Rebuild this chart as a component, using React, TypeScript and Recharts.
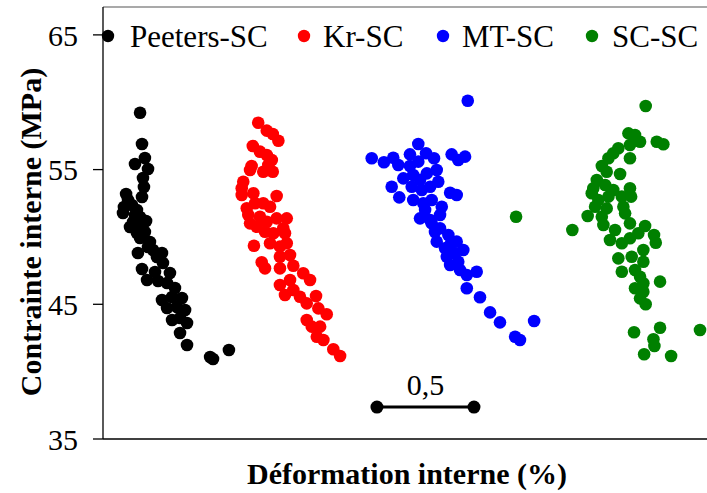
import React from 'react';
import { ScatterChart, Scatter, XAxis, YAxis, ReferenceLine, ReferenceDot, Legend } from 'recharts';

const FONT = "'Liberation Serif', 'Times New Roman', Times, serif";

// Déformation interne (%), Contrainte interne (MPa)
const peetersSC: [number, number][] = [
  [0.191, 59.22], [0.201, 56.9], [0.165, 55.41], [0.216, 55.86], [0.232, 55.04], [0.206, 54.38],
  [0.211, 53.71], [0.119, 53.19], [0.201, 52.97], [0.108, 52.22], [0.103, 51.78], [0.149, 52.37],
  [0.175, 52.0], [0.155, 51.11], [0.139, 50.74], [0.191, 51.48], [0.201, 50.74], [0.175, 50.29],
  [0.191, 49.92], [0.242, 49.62], [0.232, 49.25], [0.18, 48.81], [0.258, 49.03], [0.304, 48.81],
  [0.278, 48.51], [0.201, 47.62], [0.309, 48.07], [0.268, 47.4], [0.227, 46.8], [0.284, 46.73],
  [0.345, 47.32], [0.33, 46.58], [0.371, 46.21], [0.407, 45.47], [0.356, 45.54], [0.304, 45.32],
  [0.33, 44.72], [0.381, 44.8], [0.423, 44.58], [0.356, 43.83], [0.397, 43.98], [0.433, 43.61],
  [0.397, 42.87], [0.433, 41.98], [0.552, 41.09], [0.567, 40.94], [0.649, 41.61], [0.129, 52.74],
  [0.165, 51.63], [0.216, 50.37], [0.222, 51.18],
];

const krSC: [number, number][] = [
  [0.8, 58.48], [0.844, 57.89], [0.875, 57.64], [0.904, 57.14], [0.772, 56.75], [0.809, 56.33],
  [0.844, 56.08], [0.87, 55.71], [0.766, 55.27], [0.758, 54.97], [0.826, 54.84], [0.875, 54.84],
  [0.852, 55.34], [0.723, 54.1], [0.715, 53.61], [0.715, 53.11], [0.775, 53.24], [0.895, 53.04],
  [0.741, 52.13], [0.784, 52.5], [0.826, 52.5], [0.861, 52.24], [0.749, 51.63], [0.758, 51.01],
  [0.809, 51.5], [0.844, 51.13], [0.895, 51.38], [0.947, 51.38], [0.792, 50.76], [0.835, 50.39],
  [0.878, 50.27], [0.929, 50.64], [0.938, 50.27], [0.778, 49.35], [0.861, 49.53], [0.912, 49.28],
  [0.947, 49.53], [0.818, 48.12], [0.835, 47.67], [0.912, 48.53], [0.964, 48.66], [0.912, 47.67],
  [0.981, 47.86], [0.912, 46.43], [0.964, 46.8], [0.938, 45.69], [0.981, 46.06], [1.032, 47.3],
  [1.067, 46.8], [1.015, 45.56], [1.05, 45.07], [1.098, 45.61], [1.11, 44.7], [1.153, 44.26],
  [1.05, 43.83], [1.076, 43.34], [1.119, 43.34], [1.102, 42.59], [1.136, 42.35], [1.187, 41.66],
  [1.222, 41.16],
];

const mtSC: [number, number][] = [
  [1.88, 60.11], [1.625, 56.9], [1.385, 55.84], [1.448, 55.54], [1.496, 55.88], [1.522, 55.34],
  [1.582, 56.13], [1.665, 56.21], [1.706, 55.84], [1.72, 54.97], [1.797, 56.13], [1.831, 55.71],
  [1.866, 55.96], [1.582, 55.27], [1.625, 55.59], [1.548, 54.35], [1.599, 54.6], [1.669, 54.72],
  [1.728, 54.1], [1.488, 53.73], [1.527, 52.94], [1.591, 53.73], [1.643, 53.48], [1.686, 53.73],
  [1.789, 53.28], [1.823, 53.11], [1.599, 52.74], [1.651, 52.5], [1.694, 52.74], [1.746, 52.24],
  [1.634, 51.38], [1.686, 51.26], [1.737, 51.63], [1.694, 51.01], [1.737, 50.64], [1.72, 49.65],
  [1.78, 50.14], [1.823, 49.65], [1.763, 49.16], [1.772, 48.53], [1.814, 48.79], [1.857, 49.03],
  [1.789, 47.92], [1.831, 48.16], [1.84, 47.55], [1.875, 47.17], [1.926, 47.42], [1.875, 46.19],
  [1.943, 45.52], [1.995, 44.4], [2.046, 43.66], [2.124, 42.59], [2.149, 42.35], [2.222, 43.76],
  [1.634, 54.23], [1.66, 52.0], [1.711, 50.37], [1.789, 49.4],
];

const scSC: [number, number][] = [
  [2.797, 59.72], [2.708, 57.69], [2.742, 57.57], [2.768, 57.07], [2.716, 56.83], [2.854, 57.07],
  [2.888, 56.88], [2.656, 56.58], [2.63, 56.21], [2.716, 55.84], [2.605, 55.84], [2.571, 55.27],
  [2.596, 54.84], [2.665, 54.67], [2.545, 54.23], [2.527, 53.61], [2.519, 53.24], [2.588, 53.86],
  [2.63, 53.48], [2.716, 53.61], [2.722, 52.99], [2.674, 52.99], [2.553, 52.74], [2.605, 52.99],
  [2.536, 52.24], [2.596, 52.12], [2.682, 52.24], [2.691, 51.75], [2.498, 51.55], [2.571, 51.5],
  [2.579, 50.89], [2.419, 50.51], [2.716, 51.01], [2.794, 50.81], [2.639, 50.51], [2.759, 50.27],
  [2.613, 49.77], [2.674, 49.53], [2.716, 49.9], [2.84, 50.14], [2.849, 49.57], [2.785, 49.03],
  [2.656, 48.41], [2.725, 48.53], [2.785, 48.16], [2.674, 47.42], [2.742, 47.55], [2.768, 47.05],
  [2.785, 46.56], [2.871, 46.68], [2.742, 46.19], [2.785, 45.93], [2.768, 45.44], [2.797, 45.0],
  [2.737, 42.92], [2.871, 43.26], [2.837, 42.4], [2.842, 41.9], [2.789, 41.29], [2.928, 41.16],
  [3.077, 43.09], [2.129, 51.5],
];

const seriesNames = ['Peeters-SC', 'Kr-SC', 'MT-SC', 'SC-SC'];
const seriesColors = ['#000000', '#ff0000', '#0000ff', '#008000'];
const seriesData = [peetersSC, krSC, mtSC, scSC];

const yTicks = [35, 45, 55, 65];
const yDomain: [number, number] = [35, 67.07];
const xDomain: [number, number] = [0, 3.113];

// scale bar: 0,5 % of strain
const scaleBar: [number, number][] = [[1.412, 37.37], [1.912, 37.37]];
const scaleBarLabel = '0,5';

const toPts = (arr: [number, number][]) => arr.map(([x, y]) => ({ x, y }));

const dotShape = (color: string, r: number) => (props: any) =>
  props.cx == null ? null : <circle cx={props.cx} cy={props.cy} r={r} fill={color} />;

const LEG_DOT_X = [108, 304, 443, 592];
const LEG_TEXT_X = [130, 323, 462, 612];

const LegendContent = () => (
  <svg width={707} height={60} style={{ display: 'block' }}>
    {seriesNames.map((n, i) => (
      <g key={n}>
        <circle cx={LEG_DOT_X[i]} cy={36} r={6.2} fill={seriesColors[i]} />
        <text x={LEG_TEXT_X[i]} y={47} fill="#000" style={{ fontFamily: FONT, fontSize: 31 }}>{n}</text>
      </g>
    ))}
  </svg>
);

export default function App() {
  const barPts = toPts(scaleBar);
  const mid = { x: (scaleBar[0][0] + scaleBar[1][0]) / 2, y: scaleBar[0][1] };
  return (
    <div style={{ position: 'absolute', left: 0, top: 0, width: 707, height: 493, background: '#fff', fontFamily: FONT }}>
      <ScatterChart width={707} height={493} margin={{ top: 7, right: 0, bottom: 0, left: 0 }} style={{ fontFamily: FONT }}>
        <XAxis
          type="number"
          dataKey="x"
          domain={xDomain}
          allowDataOverflow
          ticks={[0]}
          tick={false}
          tickSize={11}
          tickLine={{ stroke: '#000', strokeWidth: 1.3 }}
          axisLine={{ stroke: '#000', strokeWidth: 1.3 }}
          height={54}
          label={{
            content: () => (
              <text x={407} y={484} textAnchor="middle" fill="#000" style={{ fontFamily: FONT, fontSize: 30, fontWeight: 'bold' }}>
                Déformation interne (%)
              </text>
            ),
          }}
        />
        <YAxis
          type="number"
          dataKey="y"
          domain={yDomain}
          allowDataOverflow
          ticks={yTicks}
          interval={0}
          width={103}
          tickSize={10}
          tickMargin={15}
          tickLine={{ stroke: '#000', strokeWidth: 1.3 }}
          axisLine={{ stroke: '#000', strokeWidth: 1.3 }}
          tick={{ fill: '#000', fontSize: 30, style: { fontFamily: FONT } }}
          label={{
            content: () => (
              <text
                x={41}
                y={232}
                transform="rotate(-90, 41, 232)"
                textAnchor="middle"
                fill="#000"
                style={{ fontFamily: FONT, fontSize: 30, fontWeight: 'bold' }}
              >
                Contrainte interne (MPa)
              </text>
            ),
          }}
        />
        <ReferenceLine y={yDomain[1]} stroke="#8c8c8c" strokeWidth={1.3} />
        {seriesData.map((d, i) => (
          <Scatter
            key={seriesNames[i]}
            name={seriesNames[i]}
            data={toPts(d)}
            fill={seriesColors[i]}
            shape={dotShape(seriesColors[i], 6.3)}
            isAnimationActive={false}
          />
        ))}
        <Scatter
          name="scale"
          data={barPts}
          fill="#000"
          line={{ stroke: '#000', strokeWidth: 3 }}
          shape={dotShape('#000', 6.5)}
          legendType="none"
          isAnimationActive={false}
        />
        <ReferenceDot
          x={mid.x}
          y={mid.y}
          r={0}
          fill="none"
          stroke="none"
          label={{ value: scaleBarLabel, position: 'top', offset: 12, fontSize: 30, fill: '#000', style: { fontFamily: FONT } }}
        />
        <Legend
          layout="horizontal"
          verticalAlign="middle"
          align="center"
          wrapperStyle={{ position: 'absolute', top: 0, left: 0, width: 707, height: 60, margin: 0, padding: 0 }}
          content={() => <LegendContent />}
        />
      </ScatterChart>
    </div>
  );
}
